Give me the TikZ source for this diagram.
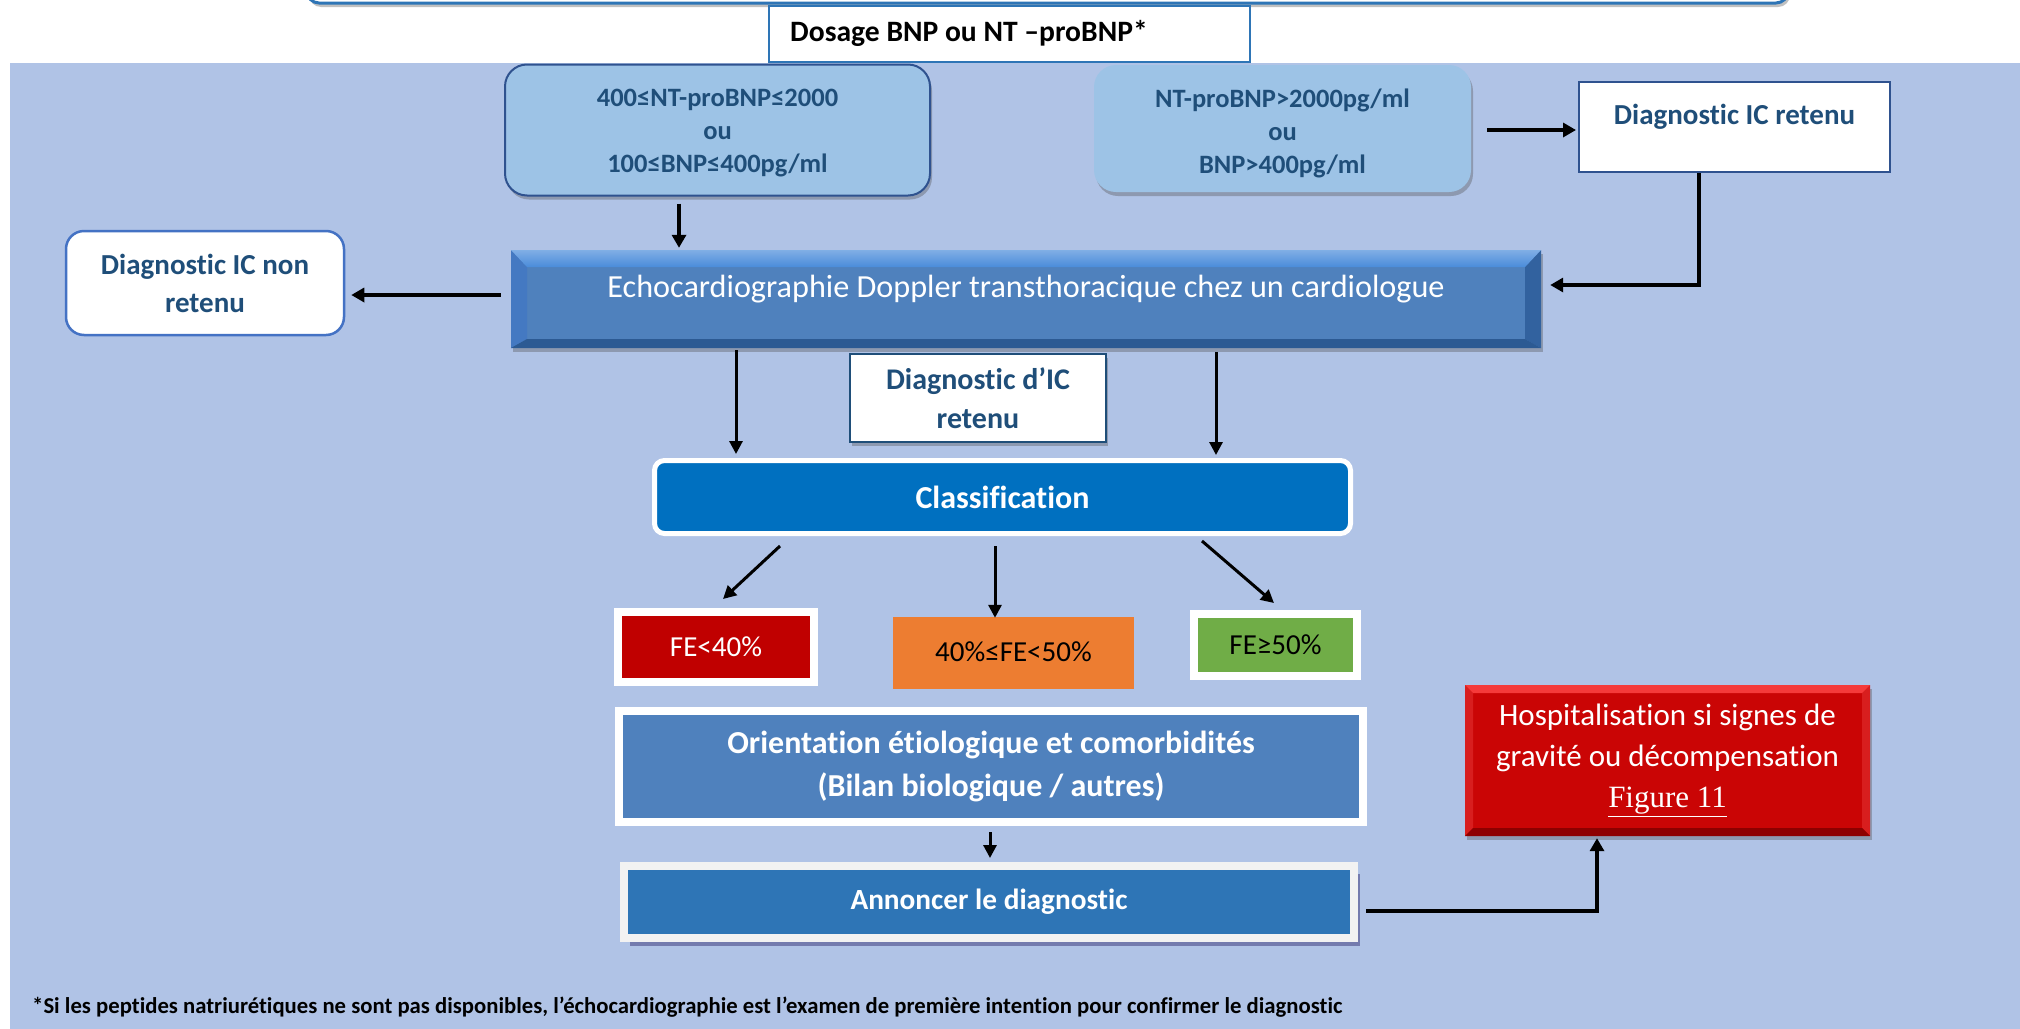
\documentclass[tikz,border=0pt]{standalone}
\usepackage{fontspec}
\setmainfont{Carlito}[Ligatures={TeX,NoCommon}]
\newfontfamily\tnr{Liberation Serif}
\usetikzlibrary{shadows,arrows.meta,calc}
\definecolor{panelbg}{HTML}{B0C3E6}
\definecolor{dtext}{HTML}{1F4E79}
\definecolor{lblue}{HTML}{9DC3E6}
\definecolor{bborder}{HTML}{2F528F}
\definecolor{mblue}{HTML}{2E75B6}
\definecolor{nborder}{HTML}{4472C4}
\definecolor{echoface}{HTML}{4F81BD}
\definecolor{echotop}{HTML}{4A8CDA}
\definecolor{echoleft}{HTML}{4479C2}
\definecolor{echoright}{HTML}{32629F}
\definecolor{echobot}{HTML}{2C5A93}
\definecolor{clsblue}{HTML}{0070C0}
\definecolor{fered}{HTML}{C00000}
\definecolor{feorange}{HTML}{ED7D31}
\definecolor{fegreen}{HTML}{70AD47}
\definecolor{annblue}{HTML}{2E75B6}
\definecolor{hospface}{HTML}{CA0505}
\definecolor{hosptop}{HTML}{F53A3A}
\definecolor{hospside}{HTML}{D81E1E}
\definecolor{hospbot}{HTML}{8E0000}
\newcommand\fsz[2]{\fontsize{#1}{#2}\selectfont}
\begin{document}
\begin{tikzpicture}[x=1pt,y=-1pt,
  arr/.style={line width=3pt,-{Triangle[length=13pt,width=13pt]}},
  arrb/.style={line width=3.5pt,-{Triangle[length=13pt,width=14pt]}},
  shad/.style={drop shadow={shadow xshift=2pt,shadow yshift=-4pt,opacity=0.35,fill=black!70}},
  lbox/.style={rectangle,rounded corners=22pt,fill=lblue,inner sep=0pt,align=center,text=dtext,font=\fsz{26.5}{33}\bfseries},
  wbox/.style={rectangle,fill=white,inner sep=0pt,align=center,text=dtext},
  framed/.style={rectangle,draw=white,line width=8pt,inner sep=0pt,align=center}
]
\useasboundingbox (0,0) rectangle (2020,1028);
\fill[white] (0,0) rectangle (2020,1028);
% top partial box
\draw[rounded corners=12pt,line width=3pt,draw=mblue,fill=white,shad] (307,-60) rectangle (1788,3);
% panel
\fill[panelbg] (10,63) rectangle (2030,1040);
% dosage
\node[rectangle,draw=mblue,line width=2pt,fill=white,minimum width=481pt,minimum height=56pt,inner sep=0pt] (dos) at (1009.5,34) {};
\node[anchor=west,inner sep=0pt,font=\fsz{29.6}{34}\bfseries] (dost) at (790,33) {Dosage BNP ou NT –proBNP*};
% box A and B
\node[lbox,draw=bborder,line width=2pt,minimum width=425pt,minimum height=131pt,shad] (A) at (717.5,130) {};
\node[align=center,text=dtext,font=\fsz{26.5}{33}\bfseries,inner sep=0pt] (At) at (717.5,133) {400≤NT-proBNP≤2000\\ou\\100≤BNP≤400pg/ml};
\node[lbox,minimum width=377pt,minimum height=127pt,shad] (B) at (1282.5,128.5) {};
\node[align=center,text=dtext,font=\fsz{26.5}{33}\bfseries,inner sep=0pt] (Bt) at (1282.5,133) {NT-proBNP>2000pg/ml\\ou\\BNP>400pg/ml};
% diagnostic IC retenu
\node[wbox,draw=bborder,line width=2pt,minimum width=311pt,minimum height=90pt] (icr) at (1734.5,127) {};
\node[text=dtext,font=\fsz{29}{35}\bfseries,inner sep=0pt] (icrt) at (1734.5,117) {Diagnostic IC retenu};
% non retenu
\node[wbox,rounded corners=18pt,draw=nborder,line width=2.5pt,minimum width=278pt,minimum height=104pt,font=\fsz{29}{38}\bfseries] (nonret) at (205,283) {Diagnostic IC non\\retenu};
% echo
\node[rectangle,fill=echoface,minimum width=1030pt,minimum height=98pt,inner sep=0pt,shad,
  path picture={
    \fill[echoleft] (path picture bounding box.north west) -- ([shift={(16pt,-17pt)}]path picture bounding box.north west) -- ([shift={(16pt,9pt)}]path picture bounding box.south west) -- (path picture bounding box.south west) -- cycle;
    \fill[echoright] (path picture bounding box.north east) -- ([shift={(-16pt,-17pt)}]path picture bounding box.north east) -- ([shift={(-16pt,9pt)}]path picture bounding box.south east) -- (path picture bounding box.south east) -- cycle;
    \shade[top color=echotop!70!white,bottom color=echotop] (path picture bounding box.north west) -- (path picture bounding box.north east) -- ([shift={(-16pt,-17pt)}]path picture bounding box.north east) -- ([shift={(16pt,-17pt)}]path picture bounding box.north west) -- cycle;
    \fill[echobot] (path picture bounding box.south west) -- (path picture bounding box.south east) -- ([shift={(-16pt,9pt)}]path picture bounding box.south east) -- ([shift={(16pt,9pt)}]path picture bounding box.south west) -- cycle;
  }] (echo) at (1026,299) {};
\node[text=white,font=\fsz{32.2}{36},inner sep=0pt] (echot) at (1026,289) {Echocardiographie Doppler transthoracique chez un cardiologue};
% diagnostic d'IC retenu
\node[wbox,draw=dtext,line width=2pt,minimum width=256pt,minimum height=88pt,font=\fsz{30}{39}\bfseries,shad] (dic) at (978,398) {Diagnostic d’IC\\retenu};
% classification
\node[rectangle,rounded corners=10pt,fill=clsblue,draw=white,line width=5pt,minimum width=696pt,minimum height=73pt,inner sep=0pt,text=white,font=\fsz{32}{36}\bfseries] (cls) at (1002.5,497) {Classification};
% FE boxes
\node[framed,fill=fered,minimum width=196pt,minimum height=70pt,text=white,font=\fsz{29}{34},shad] (fe1) at (716,647) {FE<40\%};
\node[rectangle,fill=feorange,minimum width=241pt,minimum height=72pt,inner sep=0pt,font=\fsz{29}{34}] (fe2) at (1013.5,653) {\raisebox{3pt}{40\%≤FE<50\%}};
\node[framed,fill=fegreen,minimum width=163pt,minimum height=62pt,font=\fsz{29}{34},shad] (fe3) at (1275.5,645) {FE≥50\%};
% orientation
\node[framed,fill=echoface,minimum width=744pt,minimum height=111pt,text=white,font=\fsz{32}{43}\bfseries,shad] (ori) at (991,766.5) {Orientation étiologique et comorbidités\\(Bilan biologique / autres)};
% annoncer
\node[framed,draw=black!5,fill=annblue,minimum width=730pt,minimum height=72pt,text=white,font=\fsz{29.3}{34}\bfseries,drop shadow={shadow xshift=6pt,shadow yshift=-8pt,opacity=0.6,fill=black!40!blue!40!gray}] (ann) at (989,902) {\raisebox{3pt}{Annoncer le diagnostic}};
% hospitalisation
\node[rectangle,fill=hospface,minimum width=405pt,minimum height=151pt,inner sep=0pt,text=white,align=center,font=\fsz{31}{41},shad,
  path picture={
    \fill[hospside] (path picture bounding box.north west) -- ([shift={(8pt,-8pt)}]path picture bounding box.north west) -- ([shift={(8pt,8pt)}]path picture bounding box.south west) -- (path picture bounding box.south west) -- cycle;
    \fill[hospside] (path picture bounding box.north east) -- ([shift={(-8pt,-8pt)}]path picture bounding box.north east) -- ([shift={(-8pt,8pt)}]path picture bounding box.south east) -- (path picture bounding box.south east) -- cycle;
    \fill[hosptop] (path picture bounding box.north west) -- (path picture bounding box.north east) -- ([shift={(-8pt,-8pt)}]path picture bounding box.north east) -- ([shift={(8pt,-8pt)}]path picture bounding box.north west) -- cycle;
    \fill[hospbot] (path picture bounding box.south west) -- (path picture bounding box.south east) -- ([shift={(-8pt,8pt)}]path picture bounding box.south east) -- ([shift={(8pt,8pt)}]path picture bounding box.south west) -- cycle;
  }] (hosp) at (1667.5,760.5) {Hospitalisation si signes de\\gravité ou décompensation\\{\tnr\underline{Figure 11}}};
% footnote
\node[anchor=west,inner sep=0pt,font=\fsz{22.7}{26}\bfseries] (foot) at (32,1007) {*Si les peptides natriurétiques ne sont pas disponibles, l’échocardiographie est l’examen de première intention pour confirmer le diagnostic};
% connectors
\draw[arrb] ($(A.south)+(-38.5,7)$) -- ($(echo.north)+(-347,-2)$);
\draw[arrb] ($(B.east)+(16,1.5)$) -- ($(icr.west)+(-2,3)$);
\draw[arrb] ($(icr.south)+(-35.5,0)$) |- ($(echo.east)+(9,-14)$);
\draw[arrb] ($(echo.west)+(-10,-4)$) -- ($(nonret.east)+(6,12)$);
\draw[arr] ($(echo.south)+(-290,2)$) -- ($(cls.north)+(-266.5,-4)$);
\draw[arr] ($(echo.south)+(190,4)$) -- ($(cls.north)+(213.5,-3)$);
\draw[arr] ($(cls.south)+(-222.5,10)$) -- ($(fe1.north)+(7,-9)$);
\draw[arr] ($(cls.south)+(-7.5,10)$) -- ($(fe2.north)+(-18.5,1)$);
\draw[arr] ($(cls.south)+(199.5,5)$) -- ($(fe3.north)+(-1.5,-7)$);
\draw[arr] ($(ori.south)+(-1,6)$) -- ($(ann.north)+(1,-4)$);
\draw[arrb] ($(ann.east)+(8,9)$) -| ($(hosp.south)+(-70.5,2)$);
\end{tikzpicture}
\end{document}
